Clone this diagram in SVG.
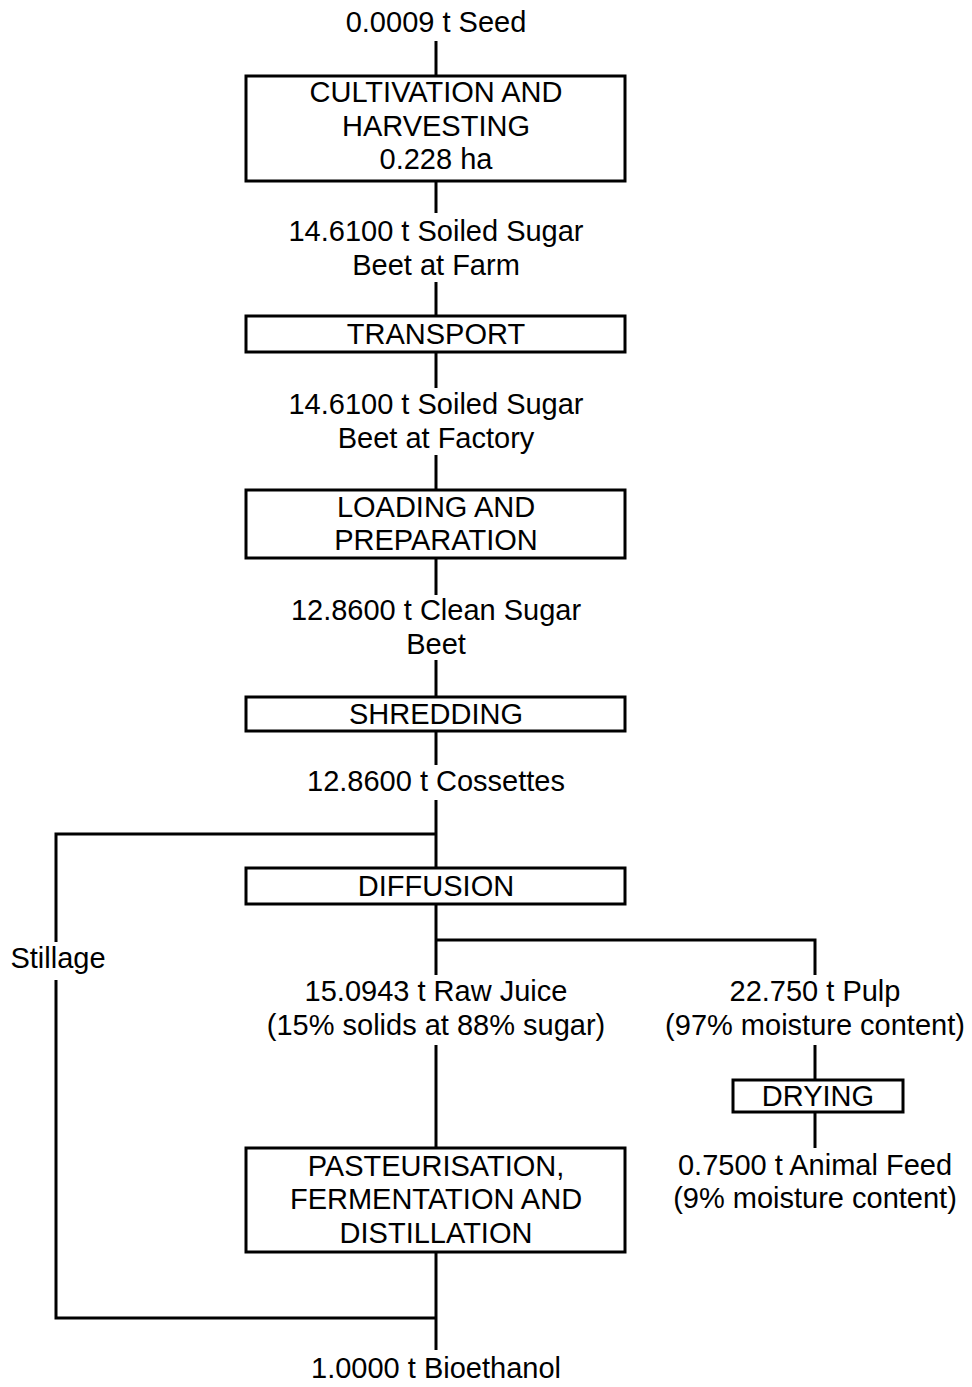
<svg xmlns="http://www.w3.org/2000/svg" width="972" height="1387" viewBox="0 0 972 1387">
<style>
text{font-family:"Liberation Sans",Arial,sans-serif;font-size:29px;fill:#000;text-anchor:middle}
.box{fill:#fff;stroke:#000;stroke-width:3}
.ln{fill:none;stroke:#000;stroke-width:3}
</style>
<rect width="972" height="1387" fill="#fff"/>
<g id="connectors">
<line class="ln" x1="436" y1="41" x2="436" y2="76"/>
<line class="ln" x1="436" y1="181" x2="436" y2="213"/>
<line class="ln" x1="436" y1="282" x2="436" y2="316"/>
<line class="ln" x1="436" y1="352" x2="436" y2="388"/>
<line class="ln" x1="436" y1="455" x2="436" y2="490"/>
<line class="ln" x1="436" y1="558" x2="436" y2="595"/>
<line class="ln" x1="436" y1="660" x2="436" y2="697"/>
<line class="ln" x1="436" y1="731" x2="436" y2="765"/>
<line class="ln" x1="436" y1="800" x2="436" y2="868"/>
<polyline class="ln" points="436,834 56,834 56,942"/>
<polyline class="ln" points="56,980 56,1318 436,1318"/>
<line class="ln" x1="436" y1="904" x2="436" y2="975"/>
<polyline class="ln" points="436,940 815,940 815,975"/>
<line class="ln" x1="436" y1="1045" x2="436" y2="1148"/>
<line class="ln" x1="815" y1="1045" x2="815" y2="1080"/>
<line class="ln" x1="815" y1="1112" x2="815" y2="1148"/>
<line class="ln" x1="436" y1="1252" x2="436" y2="1350"/>
</g>
<g id="seed"><text x="436" y="32">0.0009 t Seed</text></g>
<g id="cultivation">
<rect class="box" x="246" y="76" width="379" height="105"/>
<text x="436" y="102">CULTIVATION AND</text>
<text x="436" y="136">HARVESTING</text>
<text x="436" y="169">0.228 ha</text>
</g>
<g id="beet-farm"><text x="436" y="241">14.6100 t Soiled Sugar</text><text x="436" y="275">Beet at Farm</text></g>
<g id="transport">
<rect class="box" x="246" y="316" width="379" height="36"/>
<text x="436" y="344">TRANSPORT</text>
</g>
<g id="beet-factory"><text x="436" y="414">14.6100 t Soiled Sugar</text><text x="436" y="448">Beet at Factory</text></g>
<g id="loading">
<rect class="box" x="246" y="490" width="379" height="68"/>
<text x="436" y="517">LOADING AND</text>
<text x="436" y="550">PREPARATION</text>
</g>
<g id="clean-beet"><text x="436" y="620">12.8600 t Clean Sugar</text><text x="436" y="654">Beet</text></g>
<g id="shredding">
<rect class="box" x="246" y="697" width="379" height="34"/>
<text x="436" y="724">SHREDDING</text>
</g>
<g id="cossettes"><text x="436" y="791">12.8600 t Cossettes</text></g>
<g id="diffusion">
<rect class="box" x="246" y="868" width="379" height="36"/>
<text x="436" y="896">DIFFUSION</text>
</g>
<g id="stillage"><text x="58" y="968">Stillage</text></g>
<g id="raw-juice"><text x="436" y="1001">15.0943 t Raw Juice</text><text x="436" y="1035">(15% solids at 88% sugar)</text></g>
<g id="pulp"><text x="815" y="1001">22.750 t Pulp</text><text x="815" y="1035">(97% moisture content)</text></g>
<g id="drying">
<rect class="box" x="733" y="1080" width="170" height="32"/>
<text x="818" y="1106">DRYING</text>
</g>
<g id="animal-feed"><text x="815" y="1175">0.7500 t Animal Feed</text><text x="815" y="1208">(9% moisture content)</text></g>
<g id="pasteurisation">
<rect class="box" x="246" y="1148" width="379" height="104"/>
<text x="436" y="1176">PASTEURISATION,</text>
<text x="436" y="1209">FERMENTATION AND</text>
<text x="436" y="1243">DISTILLATION</text>
</g>
<g id="bioethanol"><text x="436" y="1378">1.0000 t Bioethanol</text></g>
</svg>
